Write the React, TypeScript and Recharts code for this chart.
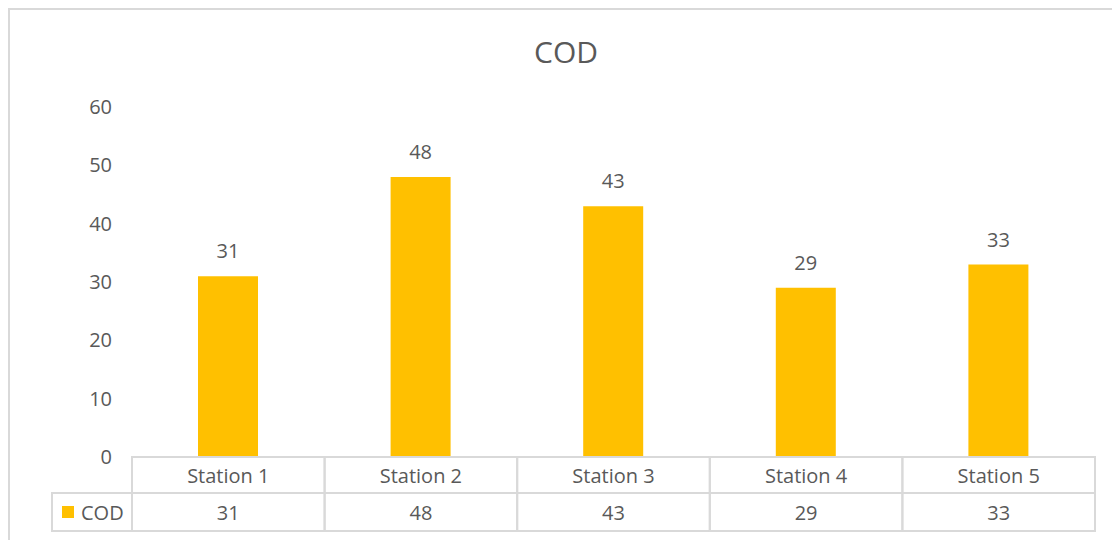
import React from 'react';
import { BarChart, Bar, XAxis, YAxis, LabelList } from 'recharts';

const categories = ['Station 1', 'Station 2', 'Station 3', 'Station 4', 'Station 5'];
const codValues = [31, 48, 43, 29, 33];
const yTicks = [0, 10, 20, 30, 40, 50, 60];
const seriesName = 'COD';
const chartTitle = 'COD';

const data = categories.map((c, i) => ({ name: c, cod: codValues[i] }));

const FONT = '"Open Sans", "Noto Sans", sans-serif';
const TEXT = '#595959';
const GRID = '#d9d9d9';
const BAR = '#FFC000';

const TableTick = (props: any) => {
  const { x, y, payload, index } = props;
  const band = payload && payload.offset ? payload.offset * 2 : (props.width || 963) / categories.length;
  const left = x - band / 2;
  const r1 = 36;
  const r2 = 38;
  const value = codValues[index];
  return (
    <g>
      <rect x={left} y={y} width={band} height={r1} fill="none" stroke={GRID} strokeWidth={2} />
      <rect x={left} y={y + r1} width={band} height={r2} fill="none" stroke={GRID} strokeWidth={2} />
      <text x={x} y={y + r1 / 2} textAnchor="middle" dominantBaseline="central" fill={TEXT} fontSize={20} fontFamily={FONT}>
        {payload.value}
      </text>
      <text x={x} y={y + r1 + r2 / 2} textAnchor="middle" dominantBaseline="central" fill={TEXT} fontSize={20} fontFamily={FONT}>
        {value}
      </text>
      {index === 0 && (
        <g>
          <rect x={left - 80} y={y + r1} width={80} height={r2} fill="none" stroke={GRID} strokeWidth={2} />
          <rect x={left - 70} y={y + r1 + 13} width={12} height={12} fill={BAR} />
          <text x={left - 51} y={y + r1 + r2 / 2} textAnchor="start" dominantBaseline="central" fill={TEXT} fontSize={20} fontFamily={FONT}>
            {seriesName}
          </text>
        </g>
      )}
    </g>
  );
};

export default function App() {
  return (
    <div
      style={{
        position: 'relative',
        width: 1110,
        height: 530,
        borderTop: `2px solid ${GRID}`,
        borderLeft: `2px solid ${GRID}`,
        overflow: 'hidden',
        background: '#fff',
      }}
    >
      <div
        style={{
          position: 'absolute',
          left: 0,
          width: 1112,
          top: 22,
          textAlign: 'center',
          fontFamily: FONT,
          fontSize: 30,
          color: TEXT,
          lineHeight: '40px',
        }}
      >
        {chartTitle}
      </div>
      <BarChart
        width={1110}
        height={530}
        data={data}
        margin={{ top: 97, right: 25, bottom: 9, left: 0 }}
      >
        <XAxis
          dataKey="name"
          axisLine={false}
          tickLine={false}
          tickSize={0}
          tickMargin={0}
          height={74}
          interval={0}
          tick={<TableTick />}
        />
        <YAxis
          width={122}
          domain={[0, 60]}
          ticks={yTicks}
          axisLine={false}
          tickLine={false}
          tickSize={0}
          tickMargin={20}
          tick={{ fill: TEXT, fontSize: 20, fontFamily: FONT }}
        />
        <Bar dataKey="cod" fill={BAR} barSize={60} isAnimationActive={false}>
          <LabelList dataKey="cod" position="top" offset={18} fill={TEXT} fontSize={20} fontFamily={FONT} />
        </Bar>
      </BarChart>
    </div>
  );
}
